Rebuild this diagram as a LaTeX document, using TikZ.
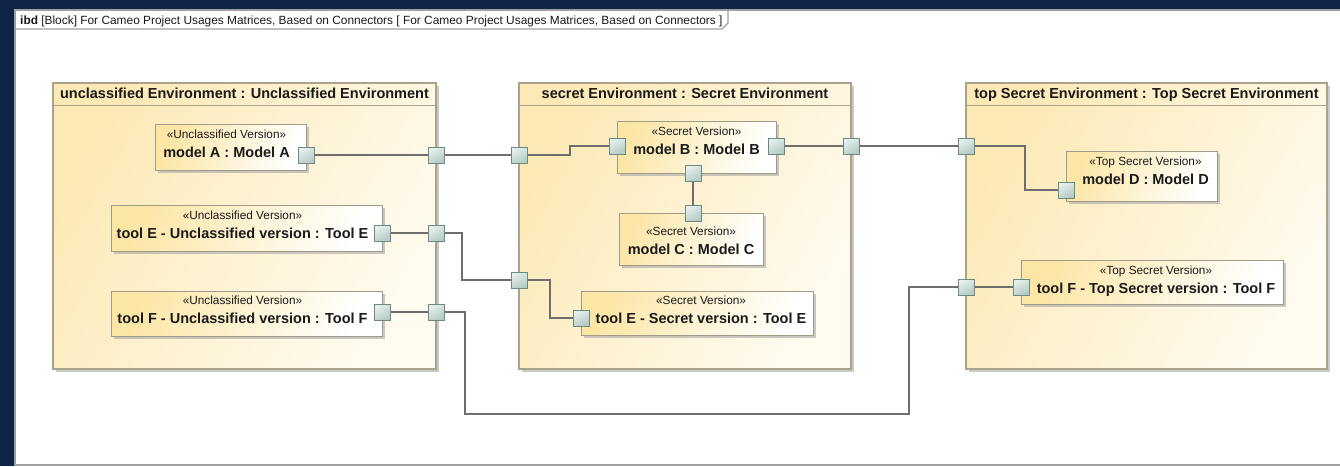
\documentclass[tikz,border=0pt]{standalone}
\usepackage{fontspec}
\setmainfont{Liberation Sans}
\usetikzlibrary{shadows}
\pgfdeclarelayer{base}
\pgfdeclarelayer{bg}
\pgfdeclarelayer{wires}
\pgfsetlayers{base,bg,wires,main}
\definecolor{navy}{HTML}{0D2446}
\definecolor{frameln}{HTML}{A0A0A0}
\definecolor{contln}{HTML}{A8A38A}
\definecolor{partln}{HTML}{A09C88}
\definecolor{contY}{HTML}{FCE9B6}
\definecolor{contW}{HTML}{FFFBF0}
\definecolor{partY}{HTML}{FCE6A6}
\definecolor{wirec}{HTML}{6E6E6E}
\definecolor{portA}{HTML}{E6F0ED}
\definecolor{portB}{HTML}{B5CBC5}
\definecolor{portln}{HTML}{6B8B82}
\definecolor{txt}{HTML}{1A1A1A}
\newcommand\hdrfont{\fontsize{14.5}{16}\selectfont\bfseries}
\newcommand\namefont{\fontsize{14.5}{16}\selectfont\bfseries}
\newcommand\sterfont{\fontsize{11.8}{13}\selectfont}
\newcommand\ttlfont{\fontsize{11.9}{13}\selectfont}
\begin{document}
\begin{tikzpicture}[x=1pt,y=-1pt,
  cont/.style={draw=contln, line width=1.3pt, inner sep=0, outer sep=0, anchor=north west,
    top color=contY, bottom color=contW, shading angle=60,
    drop shadow={shadow xshift=3pt, shadow yshift=-3pt, fill=black!35, opacity=0.6}},
  part/.style={draw=partln, line width=1pt, inner sep=0, outer sep=0, anchor=north west,
    top color=partY, bottom color=white, shading angle=70,
    drop shadow={shadow xshift=3pt, shadow yshift=-3pt, fill=black!35, opacity=0.6}},
  port/.style={draw=portln, line width=0.8pt, minimum size=16pt, inner sep=0, outer sep=0,
    top color=portA, bottom color=portB, shading angle=30},
  wire/.style={draw=wirec, line width=1.3pt},
  hdr/.style={font=\hdrfont, text=txt, inner sep=0, anchor=base},
  ster/.style={font=\sterfont, text=txt, inner sep=0, anchor=base},
  pname/.style={font=\namefont, text=txt, inner sep=0, anchor=base},
]
\useasboundingbox (0,0) rectangle (1340,466);
\begin{pgfonlayer}{base}
\fill[navy] (0,0) rectangle (1340,466);
\draw[draw=frameln, fill=white, line width=2pt] (15,10) rectangle (1345,465);
\draw[draw=frameln, line width=1.2pt] (15,29) -- (722,29) -- (728,23) -- (728,10);
\end{pgfonlayer}
\node[font=\ttlfont, text=txt, anchor=base west, inner sep=0] (title) at (20,24)
  {\textbf{ibd} [Block] For Cameo Project Usages Matrices, Based on Connectors [ For Cameo Project Usages Matrices, Based on Connectors ]};

\begin{pgfonlayer}{bg}
% containers
\node[cont, minimum width=383pt, minimum height=286pt] (cU) at (53,83) {};
\node[cont, minimum width=332pt, minimum height=286pt] (cS) at (519,83) {};
\node[cont, minimum width=361pt, minimum height=286pt] (cT) at (966,83) {};
\draw[draw=contln, line width=1pt] ([yshift=-22pt]cU.north west) -- ([yshift=-22pt]cU.north east);
\draw[draw=contln, line width=1pt] ([yshift=-22pt]cS.north west) -- ([yshift=-22pt]cS.north east);
\draw[draw=contln, line width=1pt] ([yshift=-22pt]cT.north west) -- ([yshift=-22pt]cT.north east);
% parts
\node[part, minimum width=151pt, minimum height=46pt] (mA) at (155,124) {};
\node[part, minimum width=271pt, minimum height=46pt] (tEU) at (111,205) {};
\node[part, minimum width=271pt, minimum height=45pt] (tFU) at (111,291) {};
\node[part, minimum width=159pt, minimum height=52pt] (mB) at (617,121) {};
\node[part, minimum width=144pt, minimum height=52pt] (mC) at (619,213) {};
\node[part, minimum width=232pt, minimum height=44pt] (tES) at (581,291) {};
\node[part, minimum width=151pt, minimum height=50pt] (mD) at (1066,151) {};
\node[part, minimum width=262pt, minimum height=44pt] (tFT) at (1021,260) {};
\end{pgfonlayer}

% headers
\node[hdr] (hU) at (244.5,98.5) {unclassified Environment : Unclassified Environment};
\node[hdr] (hS) at (685,98.5) {secret Environment : Secret Environment};
\node[hdr] (hT) at (1146.5,98.5) {top Secret Environment : Top Secret Environment};

% part texts
\node[ster] (sA) at (226.5,138.2) {«Unclassified Version»};
\node[pname] (nA) at (226.5,157.7) {model A : Model A};
\node[ster] (sEU) at (242.5,219.2) {«Unclassified Version»};
\node[pname] (nEU) at (242.5,238.2) {tool E - Unclassified version : Tool E};
\node[ster] (sFU) at (242.5,304.7) {«Unclassified Version»};
\node[pname] (nFU) at (242.5,323.2) {tool F - Unclassified version : Tool F};
\node[ster] (sB) at (696.5,135.2) {«Secret Version»};
\node[pname] (nB) at (696.5,154.7) {model B : Model B};
\node[ster] (sC) at (691,235.2) {«Secret Version»};
\node[pname] (nC) at (691,254.2) {model C : Model C};
\node[ster] (sES) at (701,304.7) {«Secret Version»};
\node[pname] (nES) at (701,323.7) {tool E - Secret version : Tool E};
\node[ster] (sD) at (1145.5,165.2) {«Top Secret Version»};
\node[pname] (nD) at (1145.5,184.2) {model D : Model D};
\node[ster] (sFT) at (1156,274.2) {«Top Secret Version»};
\node[pname] (nFT) at (1156,293.2) {tool F - Top Secret version : Tool F};

% ports
\node[port] (pA) at (306,155) {};
\node[port] (pU1) at (436,155) {};
\node[port] (pUE) at (382,233) {};
\node[port] (pU2) at (436,233) {};
\node[port] (pUF) at (382,312) {};
\node[port] (pU3) at (436,312) {};
\node[port] (pS1) at (519,155) {};
\node[port] (pS2) at (519,280) {};
\node[port] (pB1) at (617,146) {};
\node[port] (pB2) at (776,146) {};
\node[port] (pB3) at (693,173) {};
\node[port] (pC) at (693,213) {};
\node[port] (pSE) at (581,318) {};
\node[port] (pS3) at (851,146) {};
\node[port] (pT1) at (966,146) {};
\node[port] (pD) at (1066,190) {};
\node[port] (pT2) at (966,287) {};
\node[port] (pTF) at (1021,287) {};

\begin{pgfonlayer}{wires}
\draw[wire] (pA) -- (pU1);
\draw[wire] (pU1) -- (pS1);
\draw[wire] (pS1) -- (570,155) -- (570,146) -- (pB1);
\draw[wire] (pB2) -- (pS3);
\draw[wire] (pS3) -- (pT1);
\draw[wire] (pT1) -- (1025,146) -- (1025,190) -- (pD);
\draw[wire] (pB3) -- (pC);
\draw[wire] (pUE) -- (pU2);
\draw[wire] (pU2) -- (462,233) -- (462,280) -- (pS2);
\draw[wire] (pS2) -- (550,280) -- (550,318) -- (pSE);
\draw[wire] (pUF) -- (pU3);
\draw[wire] (pU3) -- (465,312) -- (465,414) -- (909,414) -- (909,287) -- (pT2);
\draw[wire] (pT2) -- (pTF);
\end{pgfonlayer}
\end{tikzpicture}
\end{document}
